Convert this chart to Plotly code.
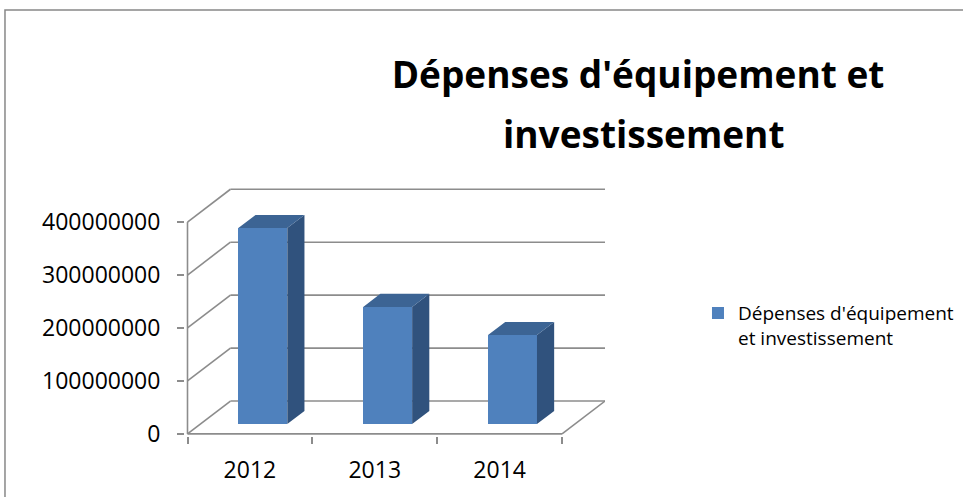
import plotly.graph_objects as go

# ---- data ----
years = ["2012", "2013", "2014"]
values = [370000000, 221000000, 168000000]
y_ticks = [0, 100000000, 200000000, 300000000, 400000000]
y_tick_text = ["0", "100000000", "200000000", "300000000", "400000000"]
series_name = "Dépenses d'équipement<br>et investissement"
title_line1 = "Dépenses d'équipement et"
title_line2 = "investissement"

# ---- pseudo-3D styling constants ----
DX = 0.344        # depth offset in category units
DY = 62000000     # depth offset in value units
HALF_W = 0.196    # half bar width (category units)
F0, F1 = 0.3, 0.7 # bar front/back depth fractions
GRID = "#8C8C8C"
FRONT = "#4F81BD"
TOP = "#3C6494"
SIDE = "#30527D"
FONT = "Open Sans"

n = len(years)
xs = list(range(n))
x_left, x_right = -0.5, n - 0.5

fig = go.Figure()

# front faces as real bars
fig.add_trace(go.Bar(
    x=[x + F0 * DX for x in xs], y=values, base=[F0 * DY] * n,
    width=2 * HALF_W, marker=dict(color=FRONT, line=dict(width=0)),
    name=series_name, showlegend=True, hoverinfo="skip"))

# side faces
sx, sy = [], []
for x, v in zip(xs, values):
    r0 = x + HALF_W + F0 * DX
    r1 = x + HALF_W + F1 * DX
    sx += [r0, r1, r1, r0, r0, None]
    sy += [F0 * DY, F1 * DY, F1 * DY + v, F0 * DY + v, F0 * DY, None]
fig.add_trace(go.Scatter(x=sx, y=sy, fill="toself", fillcolor=SIDE, mode="lines",
                         line=dict(width=0, color=SIDE), showlegend=False, hoverinfo="skip"))
# top faces
tx, ty = [], []
for x, v in zip(xs, values):
    a0 = x - HALF_W + F0 * DX
    b0 = x + HALF_W + F0 * DX
    a1 = x - HALF_W + F1 * DX
    b1 = x + HALF_W + F1 * DX
    tx += [a0, b0, b1, a1, a0, None]
    ty += [F0 * DY + v, F0 * DY + v, F1 * DY + v, F1 * DY + v, F0 * DY + v, None]
fig.add_trace(go.Scatter(x=tx, y=ty, fill="toself", fillcolor=TOP, mode="lines",
                         line=dict(width=0, color=TOP), showlegend=False, hoverinfo="skip"))

# invisible trace for overlay axis (boundary ticks)
fig.add_trace(go.Scatter(x=[x_left, x_right], y=[0, 0], xaxis="x2", mode="markers",
                         marker=dict(opacity=0), showlegend=False, hoverinfo="skip"))

# walls / grid as shapes below traces
shapes = []
line = dict(color=GRID, width=1.6)
for v in y_ticks:
    shapes.append(dict(type="line", xref="x", yref="y", layer="below",
                       x0=x_left + DX, x1=x_right + DX, y0=v + DY, y1=v + DY, line=line))
    shapes.append(dict(type="line", xref="x", yref="y", layer="below",
                       x0=x_left, x1=x_left + DX, y0=v, y1=v + DY, line=line))
shapes.append(dict(type="line", xref="x", yref="y", layer="below",
                   x0=x_left, x1=x_left, y0=0, y1=y_ticks[-1], line=line))
shapes.append(dict(type="line", xref="x", yref="y", layer="below",
                   x0=x_left, x1=x_right, y0=0, y1=0, line=line))
shapes.append(dict(type="line", xref="x", yref="y", layer="below",
                   x0=x_right, x1=x_right + DX, y0=0, y1=DY, line=line))
# outer chart border
shapes.append(dict(type="rect", xref="paper", yref="paper", layer="below",
                   x0=-0.4286, x1=2.0, y0=-1.0, y1=1.697,
                   line=dict(color="#888888", width=1.5), fillcolor="rgba(0,0,0,0)"))

xr = [-0.52, x_right + DX]
fig.update_layout(
    width=963, height=497,
    margin=dict(l=185, r=358, t=185, b=61, autoexpand=False),
    paper_bgcolor="white", plot_bgcolor="white",
    font=dict(family=FONT, color="#000000"),
    shapes=shapes,
    showlegend=True,
    legend=dict(x=1.2214, y=0.565, xanchor="left", yanchor="top", valign="top",
                font=dict(family=FONT, size=19, color="#000000"),
                bgcolor="rgba(0,0,0,0)", itemwidth=30),
    title=dict(text=f"<b>{title_line1}</b>", x=638 / 963, xanchor="center",
               y=1 - 75 / 497, yanchor="middle",
               font=dict(family=FONT, size=37, color="#000000")),
    annotations=[dict(text=f"<b>{title_line2}</b>", xref="paper", yref="paper",
                      x=(643 - 185) / 420, y=(436 - 133) / 251, xanchor="center", yanchor="middle",
                      showarrow=False, font=dict(family=FONT, size=37, color="#000000"))],
    xaxis=dict(range=xr, tickmode="array", tickvals=xs, ticktext=years, ticks="",
               ticklabelstandoff=18, showgrid=False, zeroline=False, showline=False,
               tickfont=dict(family=FONT, size=23, color="#000000")),
    xaxis2=dict(range=xr, overlaying="x", anchor="y", side="bottom", tickmode="array",
                tickvals=[x_left + i for i in range(n + 1)], ticks="outside", ticklen=7,
                tickcolor=GRID, tickwidth=1.6, showticklabels=False, showgrid=False,
                zeroline=False, showline=False),
    yaxis=dict(range=[-4000000, 470000000], tickmode="array", tickvals=y_ticks,
               ticktext=y_tick_text, ticks="outside", ticklen=7, tickcolor=GRID, tickwidth=1.6,
               ticklabelstandoff=12, showgrid=False, zeroline=False, showline=False,
               tickfont=dict(family=FONT, size=23, color="#000000")),
    bargap=0,
)

fig.write_html("out.html", config={"displayModeBar": False},
               post_script="document.body.style.margin='0';")
